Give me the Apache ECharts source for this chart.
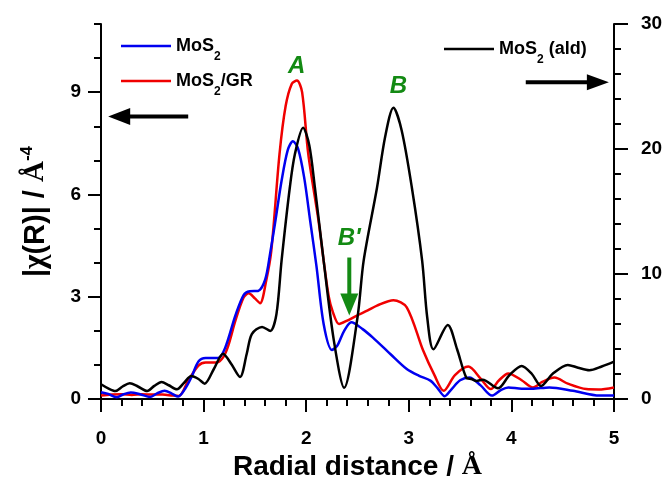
<!DOCTYPE html>
<html><head><meta charset="utf-8">
<script src="https://cdn.jsdelivr.net/npm/echarts@6/dist/echarts.min.js"></script>
<style>html,body{margin:0;padding:0;background:#fff}#c{width:666px;height:481px}</style>
</head><body><div id="c"></div>
<script>
// ---- data (R in Å, |chi(R)|) ----
const mos2 = [[0,0.2],[0.07,0.15],[0.15,0.05],[0.22,0.14],[0.29,0.19],[0.38,0.14],[0.48,0.06],[0.55,0.17],[0.62,0.24],[0.69,0.16],[0.75,0.07],[0.82,0.3],[0.88,0.63],[0.95,1.1],[1.02,1.2],[1.14,1.2],[1.21,1.5],[1.31,2.45],[1.39,3.05],[1.45,3.16],[1.53,3.17],[1.6,3.5],[1.65,4.3],[1.7,5.23],[1.76,6.4],[1.82,7.3],[1.87,7.56],[1.92,7.35],[1.98,6.5],[2.04,5.2],[2.1,3.9],[2.17,2.2],[2.25,1.44],[2.3,1.55],[2.37,2.0],[2.44,2.25],[2.55,2.05],[2.65,1.8],[2.82,1.32],[2.98,0.88],[3.1,0.68],[3.21,0.54],[3.28,0.32],[3.35,0.08],[3.42,0.3],[3.5,0.55],[3.59,0.63],[3.7,0.4],[3.81,0.1],[3.9,0.27],[3.97,0.34],[4.1,0.3],[4.2,0.3],[4.37,0.34],[4.6,0.24],[4.86,0.1],[5,0.1]];
const mos2gr = [[0,0.1],[0.1,0.13],[0.2,0.14],[0.3,0.12],[0.4,0.14],[0.5,0.13],[0.6,0.13],[0.7,0.1],[0.76,0.09],[0.85,0.54],[0.95,0.98],[1.02,1.07],[1.13,1.07],[1.19,1.22],[1.24,1.56],[1.31,2.3],[1.39,2.98],[1.44,3.1],[1.5,2.95],[1.55,2.81],[1.61,3.47],[1.66,4.35],[1.74,7.19],[1.8,8.6],[1.86,9.25],[1.91,9.34],[1.96,9.0],[2.02,7.19],[2.12,5.23],[2.17,4.06],[2.22,3.0],[2.26,2.55],[2.32,2.2],[2.4,2.3],[2.49,2.44],[2.6,2.6],[2.69,2.74],[2.85,2.9],[2.98,2.69],[3.14,1.42],[3.25,0.7],[3.34,0.24],[3.45,0.7],[3.58,0.95],[3.7,0.6],[3.8,0.29],[3.88,0.55],[3.97,0.75],[4.1,0.55],[4.21,0.34],[4.3,0.5],[4.42,0.63],[4.55,0.45],[4.73,0.29],[4.85,0.28],[5,0.34]];
const mos2ald = [[0,1.18],[0.07,0.85],[0.14,0.64],[0.21,1.0],[0.28,1.26],[0.36,1.0],[0.45,0.64],[0.52,1.05],[0.59,1.36],[0.66,1.1],[0.74,0.78],[0.81,1.3],[0.88,1.84],[0.95,1.6],[1.01,1.23],[1.1,2.4],[1.19,3.63],[1.27,2.8],[1.355,1.76],[1.42,3.6],[1.47,5.19],[1.57,5.77],[1.65,5.45],[1.71,6.79],[1.76,11.07],[1.84,16.9],[1.89,19.6],[1.97,21.7],[2.03,20.3],[2.085,16.9],[2.17,11.07],[2.27,4.65],[2.37,0.9],[2.5,6.52],[2.56,11.07],[2.69,16.9],[2.77,21.0],[2.85,23.3],[2.93,21.5],[3.03,16.9],[3.13,11.07],[3.18,6.5],[3.24,3.98],[3.38,5.93],[3.47,4.0],[3.56,1.71],[3.61,1.6],[3.66,1.45],[3.72,1.55],[3.87,0.86],[3.98,1.9],[4.1,2.65],[4.2,2.0],[4.29,1.04],[4.4,2.0],[4.55,2.73],[4.65,2.5],[4.76,2.3],[4.88,2.6],[5,2.99]];
const seriesNames = ['MoS2', 'MoS2/GR', 'MoS2 (ald)'];
const xTicks = [0, 1, 2, 3, 4, 5];
const leftTicks = [0, 3, 6, 9];
const rightTicks = [0, 10, 20, 30];
// annotations in (R, left-axis value)
const annotText = ['A', 'B', "B'"];
const annotPos = [[1.907, 9.76], [2.90, 9.18], [2.42, 4.72]];

const FONT = '"Liberation Sans", Arial, sans-serif';
const SERIF = '"Liberation Serif", "Times New Roman", serif';
const GREEN = '#138a13';
const chart = echarts.init(document.getElementById('c'), null, {renderer: 'canvas'});

const legRich = {
  n: {fontSize: 18, fontWeight: 'bold', fontFamily: FONT, color: '#000', verticalAlign: 'middle'},
  s: {fontSize: 12, fontWeight: 'bold', fontFamily: FONT, color: '#000', lineHeight: 34, verticalAlign: 'bottom'}
};
function legFmt(name) {
  if (name === 'MoS2') return '{n|MoS}{s|2}';
  if (name === 'MoS2/GR') return '{n|MoS}{s|2}{n|/GR}';
  return '{n|MoS}{s|2}{n| (ald)}';
}
const tickLabel = {fontSize: 19, fontWeight: 'bold', fontFamily: FONT, color: '#000'};
const legendBase = {orient: 'vertical', icon: 'rect', itemWidth: 50, itemHeight: 2.5, itemGap: 9,
  formatter: legFmt, textStyle: {rich: legRich}};

chart.setOption({
  animation: false,
  backgroundColor: '#fff',
  grid: {left: 101, right: 52, top: 24, bottom: 82, containLabel: false, outerBoundsMode: 'none'},
  legend: [
    Object.assign({data: [seriesNames[0], seriesNames[1]], left: 116, top: 32}, legendBase),
    Object.assign({data: [seriesNames[2]], left: 439, top: 35}, legendBase)
  ],
  xAxis: [
    {type: 'value', position: 'bottom', min: 0, max: 5, interval: 1,
     axisLine: {lineStyle: {color: '#000', width: 2}},
     axisTick: {length: 13, lineStyle: {width: 2, color: '#000'}},
     minorTick: {show: true, splitNumber: 5, length: 7, lineStyle: {width: 2, color: '#000'}},
     splitLine: {show: false},
     axisLabel: Object.assign({margin: 30, formatter: v => xTicks.includes(v) ? String(v) : ''}, tickLabel),
     name: 'Radial distance / {a|Å}', nameLocation: 'middle', nameGap: 54,
     nameTextStyle: {fontSize: 28, fontWeight: 'bold', fontFamily: FONT, color: '#000',
       rich: {a: {fontSize: 28, fontWeight: 'bold', fontFamily: SERIF, color: '#000'}}}},
    {type: 'value', position: 'top', min: 0, max: 5,
     axisLine: {show: true, lineStyle: {color: '#000', width: 2}},
     axisTick: {show: false}, axisLabel: {show: false}, splitLine: {show: false}}
  ],
  yAxis: [
    {type: 'value', position: 'left', min: 0, max: 11, interval: 1,
     axisLine: {show: true, lineStyle: {color: '#000', width: 2}},
     axisTick: {show: true, length: 7, lineStyle: {width: 2, color: '#000'}},
     splitLine: {show: false},
     axisLabel: Object.assign({margin: 20, formatter: v => leftTicks.includes(v) ? String(v) : ''}, tickLabel),
     name: '|{c|χ}(R)| / {a|Å}{p|-4}', nameLocation: 'middle', nameGap: 48, nameRotate: 90,
     nameTextStyle: {fontSize: 29, fontWeight: 'bold', fontFamily: FONT, color: '#000', lineHeight: 34,
       rich: {c: {fontSize: 31, fontWeight: 'bold', fontFamily: SERIF, color: '#000'},
              a: {fontSize: 29, fontWeight: 'bold', fontFamily: SERIF, color: '#000'},
              p: {fontSize: 17, fontWeight: 'bold', fontFamily: FONT, color: '#000', verticalAlign: 'top', lineHeight: 17}}}},
    {type: 'value', position: 'left', min: 0, max: 11, interval: 3,
     axisLine: {show: false},
     axisTick: {show: true, length: 13, customValues: leftTicks, lineStyle: {width: 2, color: '#000'}},
     axisLabel: {show: false}, splitLine: {show: false}},
    {type: 'value', position: 'right', min: 0, max: 30, interval: 10,
     axisLine: {show: true, lineStyle: {color: '#000', width: 2}},
     axisTick: {show: true, length: 14, lineStyle: {width: 2, color: '#000'}},
     minorTick: {show: true, splitNumber: 5, length: 7, lineStyle: {width: 2, color: '#000'}},
     splitLine: {show: false},
     axisLabel: Object.assign({margin: 27, formatter: v => rightTicks.includes(v) ? String(v) : ''}, tickLabel)}
  ],
  series: [
    {name: seriesNames[1], type: 'line', xAxisIndex: 0, yAxisIndex: 0, data: mos2gr, symbol: 'none', smooth: 0.3,
     lineStyle: {color: '#f00000', width: 2.5}, itemStyle: {color: '#f00000'}},
    {name: seriesNames[0], type: 'line', xAxisIndex: 0, yAxisIndex: 0, data: mos2, symbol: 'none', smooth: 0.3,
     lineStyle: {color: '#0000f0', width: 2.5}, itemStyle: {color: '#0000f0'}},
    {name: seriesNames[2], type: 'line', xAxisIndex: 0, yAxisIndex: 2, data: mos2ald, symbol: 'none', smooth: 0.3,
     lineStyle: {color: '#000', width: 2.5}, itemStyle: {color: '#000'}}
  ]
});

function toPx(p) { return chart.convertToPixel({xAxisIndex: 0, yAxisIndex: 0}, p); }
function arrow(tail, tip, color, headLen, headW, lw) {
  const dx = tip[0] - tail[0], dy = tip[1] - tail[1];
  const L = Math.hypot(dx, dy), ux = dx / L, uy = dy / L;
  const bx = tip[0] - ux * headLen, by = tip[1] - uy * headLen;
  return [
    {type: 'line', shape: {x1: tail[0], y1: tail[1], x2: bx + ux * 2, y2: by + uy * 2}, style: {stroke: color, lineWidth: lw}, silent: true},
    {type: 'polygon', shape: {points: [tip, [bx - uy * headW / 2, by + ux * headW / 2], [bx + uy * headW / 2, by - ux * headW / 2]]},
     style: {fill: color}, silent: true}
  ];
}
const g = [];
annotText.forEach((t, i) => {
  const p = toPx(annotPos[i]);
  g.push({type: 'text', x: p[0], y: p[1], silent: true,
    style: {text: t, fill: GREEN, font: 'italic bold 24px ' + FONT, textAlign: 'center', textVerticalAlign: 'middle'}});
});
g.push(...arrow(toPx([2.42, 4.15]), toPx([2.42, 2.45]), GREEN, 22, 18, 4));
g.push(...arrow(toPx([0.85, 8.29]), toPx([0.07, 8.29]), '#000', 22, 17, 4));
g.push(...arrow(toPx([4.14, 9.29]), toPx([4.95, 9.29]), '#000', 22, 16, 4));
chart.setOption({graphic: g});
</script>
</body></html>
